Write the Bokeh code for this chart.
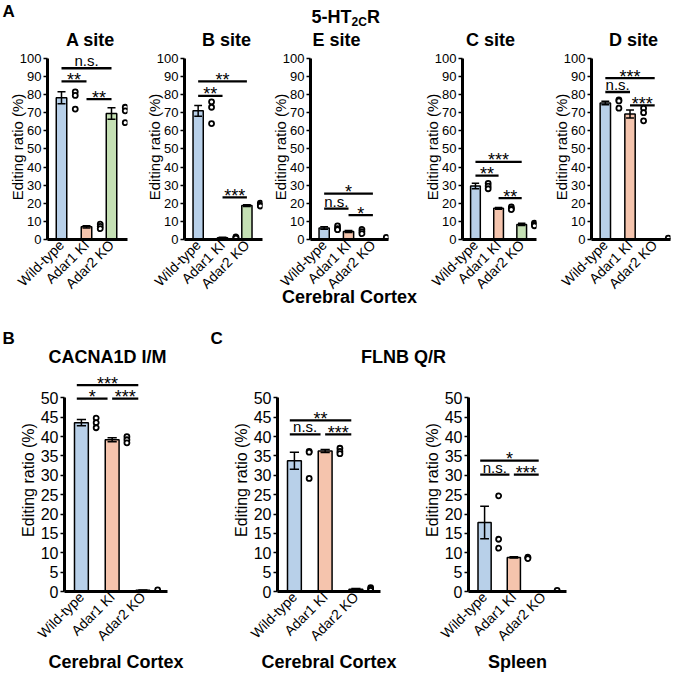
import math
from bokeh.plotting import figure
from bokeh.layouts import column, row
from bokeh.models import Range1d, FixedTicker, ColumnDataSource
from bokeh.embed import file_html
from bokeh.resources import INLINE
from bokeh.core.properties import value

FONT = "Liberation Sans"

groups = ["Wild-type", "Adar1 KI", "Adar2 KO"]
bar_colors = ["#b8d0e9", "#f5c4ad", "#c5e0b4"]

# 5-HT2CR editing, cerebral cortex
a_mean = [78.2, 7.0, 69.5]
a_err = [3.3, 0.6, 3.2]
a_pts = [[81.5, 79.5, 72.0], [8.5, 7.2, 6.0], [73.0, 71.0, 64.5]]
a_sig = [(0, 2, 94.5, "n.s."), (0, 1, 87.3, "**"), (1, 2, 77.5, "**")]

b_mean = [71.0, 1.0, 18.7]
b_err = [3.0, 0.2, 0.5]
b_pts = [[76.0, 73.0, 64.0], [1.5, 1.0, 0.8], [20.0, 19.0, 18.5]]
b_sig = [(0, 2, 87.3, "**"), (0, 1, 79.3, "**"), (1, 2, 23.2, "***")]

e_mean = [6.3, 4.4, 0.2]
e_err = [0.7, 0.5, 0.1]
e_pts = [[7.5, 6.0, 5.4], [5.6, 4.4, 3.2], [1.2]]
e_sig = [(0, 2, 25.3, "*"), (0, 1, 17.0, "n.s."), (1, 2, 13.4, "*")]

c_mean = [29.5, 17.2, 8.3]
c_err = [1.5, 0.5, 0.6]
c_pts = [[31.0, 29.5, 28.0], [18.0, 17.0, 16.5], [9.0, 8.3, 7.6]]
c_sig = [(0, 2, 42.8, "***"), (0, 1, 35.3, "**"), (1, 2, 22.8, "**")]

d_mean = [75.3, 69.3, 0.1]
d_err = [1.0, 2.2, 0.05]
d_pts = [[77.0, 76.5, 72.5], [72.5, 70.0, 65.5], [0.8]]
d_sig = [(0, 2, 89.1, "***"), (0, 1, 81.4, "n.s."), (1, 2, 74.0, "***")]

site_titles = ["A site", "B site", "E site", "C site", "D site"]

# CACNA1D I/M, cerebral cortex
cac_mean = [43.6, 39.2, 0.3]
cac_err = [0.8, 0.5, 0.1]
cac_pts = [[44.8, 43.6, 42.3], [40.0, 39.2, 38.4], [0.4]]
cac_sig = [(0, 2, 53.3, "***"), (0, 1, 49.8, "*"), (1, 2, 49.8, "***")]

# FLNB Q/R, cerebral cortex and spleen
flc_mean = [33.8, 36.3, 0.6]
flc_err = [2.2, 0.4, 0.2]
flc_pts = [[36.2, 36.0, 29.2], [37.0, 36.2, 35.6], [1.0, 0.6, 0.3]]
flc_sig = [(0, 2, 44.2, "**"), (0, 1, 40.6, "n.s."), (1, 2, 40.6, "***")]

fls_mean = [17.8, 8.8, 0.05]
fls_err = [4.2, 0.15, 0.02]
fls_pts = [[24.7, 13.5, 11.2], [8.9, 8.7, 8.5], [0.3]]
fls_sig = [(0, 2, 33.8, "*"), (0, 1, 30.2, "n.s."), (1, 2, 30.2, "***")]

TOP_TICKS = list(range(0, 101, 10))
BOT_TICKS = list(range(0, 51, 5))


def panel(mean, err, pts, sig, width, height, left, right, top, bottom,
          ymax, yticks, ytop, xr, bw, cap, dot_dx, line_dx, mid_dx,
          ytick_fs, xtick_fs, ylab_fs, ylab_standoff, xlabel=None, xlab_standoff=0):
    xs = list(range(len(groups)))
    p = figure(width=width, height=height, x_range=Range1d(*xr),
               y_range=Range1d(0, ymax), output_backend="svg",
               toolbar_location=None, min_border=0,
               min_border_left=left, min_border_right=right,
               min_border_top=top, min_border_bottom=bottom)
    p.outline_line_color = None
    p.grid.visible = False
    p.background_fill_color = "white"
    p.border_fill_color = "white"
    ppu = (height - top - bottom) / ymax   # screen px per data unit

    p.vbar(x=xs, top=mean, bottom=0, width=bw, fill_color=bar_colors,
           line_color="black", line_width=1.5)
    lo = [m - e for m, e in zip(mean, err)]
    hi = [m + e for m, e in zip(mean, err)]
    p.segment(x0=xs, y0=lo, x1=xs, y1=hi, line_color="black", line_width=1.5)
    p.segment(x0=[x - cap for x in xs], y0=hi, x1=[x + cap for x in xs], y1=hi,
              line_color="black", line_width=1.5)
    p.segment(x0=[x - cap for x in xs], y0=lo, x1=[x + cap for x in xs], y1=lo,
              line_color="black", line_width=1.5)

    dx = [i + dot_dx for i, v in enumerate(pts) for _ in v]
    dy = [y for v in pts for y in v]
    p.scatter(x=dx, y=dy, marker="circle", size=5, fill_color="white",
              line_color="black", line_width=1.8)

    sx0, sx1, sy, st, ty, sf = [], [], [], [], [], []
    for i, j, y, lab in sig:
        x0 = i + (line_dx if i == 0 else mid_dx)
        x1 = j + line_dx
        sx0.append(x0)
        sx1.append(x1)
        sy.append(y)
        st.append(lab)
        if lab == "n.s.":
            ty.append(y + 7.7 / ppu)
            sf.append("15px")
        else:
            ty.append(y + 1.6 / ppu)
            sf.append("18px")
    p.segment(x0=sx0, y0=sy, x1=sx1, y1=sy, line_color="black", line_width=2.3)
    src = ColumnDataSource(dict(x=[(a + b) / 2 for a, b in zip(sx0, sx1)],
                                y=ty, t=st, fs=sf))
    p.text(x="x", y="y", text="t", text_font_size="fs",
           source=src, text_align="center", text_baseline="middle",
           text_font=value(FONT), text_color="black")

    ya = p.yaxis[0]
    ya.ticker = FixedTicker(ticks=yticks)
    ya.bounds = (0, ytop)
    ya.axis_label = "Editing ratio (%)"
    ya.axis_label_text_font = FONT
    ya.axis_label_text_font_style = "normal"
    ya.axis_label_text_font_size = ylab_fs
    ya.axis_label_text_color = "black"
    ya.axis_label_standoff = ylab_standoff
    ya.major_label_text_font = FONT
    ya.major_label_text_font_size = ytick_fs
    ya.major_label_text_color = "black"
    ya.major_label_standoff = 2
    ya.axis_line_width = 3
    ya.axis_line_color = "black"
    ya.major_tick_line_width = 1.5
    ya.major_tick_line_color = "black"
    ya.major_tick_out = 4
    ya.major_tick_in = 0
    ya.minor_tick_line_color = None

    xa = p.xaxis[0]
    xa.ticker = FixedTicker(ticks=xs)
    xa.major_label_overrides = {i: g for i, g in enumerate(groups)}
    xa.major_label_orientation = math.pi / 4
    xa.major_label_text_font = FONT
    xa.major_label_text_font_size = xtick_fs
    xa.major_label_text_color = "black"
    xa.major_label_standoff = 3
    xa.axis_line_width = 3
    xa.axis_line_color = "black"
    xa.major_tick_line_color = None
    xa.major_tick_out = 0
    xa.major_tick_in = 0
    xa.minor_tick_line_color = None
    if xlabel:
        xa.axis_label = xlabel
        xa.axis_label_text_font = FONT
        xa.axis_label_text_font_style = "bold"
        xa.axis_label_text_font_size = "18px"
        xa.axis_label_text_color = "black"
        xa.axis_label_standoff = xlab_standoff
    return p


def band(w, h):
    p = figure(width=w, height=h, x_range=Range1d(0, w), y_range=Range1d(h, 0),
               output_backend="svg", toolbar_location=None, min_border=0,
               x_axis_location=None, y_axis_location=None)
    p.grid.visible = False
    p.outline_line_color = None
    p.background_fill_color = "white"
    p.border_fill_color = "white"
    return p


def btext(p, x, y, t, size="18px", align="left", style="bold"):
    p.text(x=[x], y=[y], text=[t], text_align=align, text_baseline="middle",
           text_font=value(FONT), text_font_style=style, text_font_size=size,
           text_color="black")


W = 675

# ---- top header band (y 0..50)
h1 = band(W, 50)
btext(h1, 2, 11, "A", size="17px")
btext(h1, 311, 16, "5-HT")
btext(h1, 351, 21, "2C", size="12px")
btext(h1, 366.5, 16, "R")
for cx, t in zip([90, 226, 336, 490, 633], site_titles):
    btext(h1, cx, 39, t, align="center")

# ---- top row of panels (y 50..310)
top_common = dict(height=260, top=4, bottom=65, ymax=102.1, yticks=TOP_TICKS, ytop=100,
                  xr=(-0.56, 2.64), bw=0.42, cap=0.16, dot_dx=0.55, line_dx=0.0,
                  mid_dx=0.0, ytick_fs="13px", xtick_fs="14px", ylab_fs="15px",
                  ylab_standoff=-9)
pA = panel(a_mean, a_err, a_pts, a_sig, width=142, left=47, right=15, **top_common)
pB = panel(b_mean, b_err, b_pts, b_sig, width=126, left=40, right=6, **top_common)
pE = panel(e_mean, e_err, e_pts, e_sig, width=152, left=40, right=32,
           xlabel="Cerebral Cortex", xlab_standoff=-13, **top_common)
pC = panel(c_mean, c_err, c_pts, c_sig, width=129, left=36, right=13, **top_common)
pD = panel(d_mean, d_err, d_pts, d_sig, width=126, left=41, right=5, **top_common)

# ---- middle band (y 310..368)
h2 = band(W, 58)
btext(h2, 2, 28, "B", size="17px")
btext(h2, 210, 28, "C", size="17px")
btext(h2, 107, 46, "CACNA1D I/M", align="center")
btext(h2, 403, 46, "FLNB Q/R", align="center")

# ---- bottom row of panels (y 368..675)
bot_common = dict(height=307, top=0, bottom=80, ymax=57.6, yticks=BOT_TICKS, ytop=50,
                  xr=(-0.55, 2.8), bw=0.45, cap=0.15, dot_dx=0.48, line_dx=-0.15,
                  mid_dx=0.0, ytick_fs="16px", xtick_fs="14px", ylab_fs="16px",
                  ylab_standoff=1, xlab_standoff=0)
pCac = panel(cac_mean, cac_err, cac_pts, cac_sig, width=212, left=64, right=45,
             xlabel="Cerebral Cortex", **bot_common)
pFc = panel(flc_mean, flc_err, flc_pts, flc_sig, width=208, left=65, right=40,
            xlabel="Cerebral Cortex", **bot_common)
pFs = panel(fls_mean, fls_err, fls_pts, fls_sig, width=255, left=43, right=109,
            xlabel="Spleen", **bot_common)

layout = column(h1, row(pA, pB, pE, pC, pD), h2, row(pCac, pFc, pFs))

with open("out.html", "w") as f:
    f.write(file_html(layout, INLINE))
